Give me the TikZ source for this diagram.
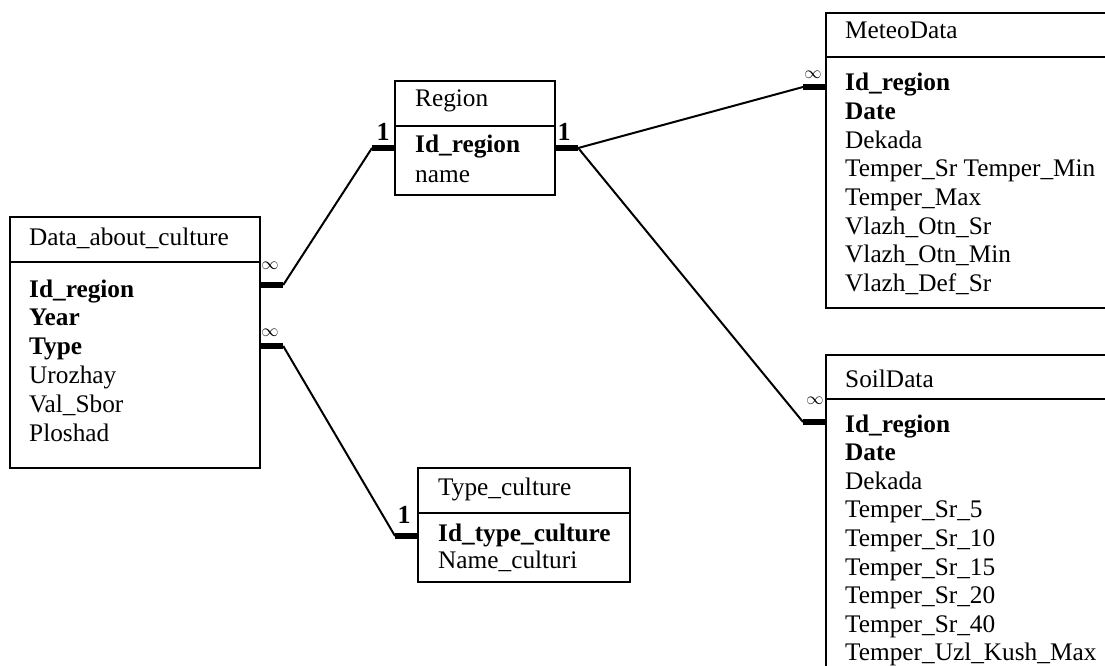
\documentclass[tikz,border=0pt]{standalone}
\usepackage{fontspec}
\setmainfont{Liberation Serif}
\usetikzlibrary{calc}
\begin{document}
\begin{tikzpicture}[x=1pt,y=-1pt,
  tbl/.style={draw, line width=2.2pt, rectangle, anchor=north west, inner sep=0pt},
  divline/.style={line width=2.2pt},
  stub/.style={line width=5.5pt},
  rel/.style={line width=2pt},
  fld/.style={anchor=base west, inner sep=0pt, font=\fontsize{25.3}{28.7}\selectfont},
  card/.style={anchor=base, inner sep=0pt, font=\fontsize{26}{26}\selectfont\bfseries},
  many/.style={inner sep=0pt, font=\fontsize{17}{17}\selectfont}]
\clip (0,0) rectangle (1105,666);
\fill[white] (0,0) rectangle (1105,666);

% tables
\node[tbl, minimum width=250pt, minimum height=251pt] (data) at (9,216) {};
\node[tbl, minimum width=160pt, minimum height=114pt] (region) at (394,80) {};
\node[tbl, minimum width=300pt, minimum height=295pt] (meteo) at (825,12) {};
\node[tbl, minimum width=300pt, minimum height=340pt] (soil) at (825,354) {};
\node[tbl, minimum width=212pt, minimum height=114pt] (type) at (417,467) {};

% dividers
\draw[divline] ($(data.north west)+(0,46)$) -- ($(data.north east)+(0,46)$);
\draw[divline] ($(region.north west)+(0,46)$) -- ($(region.north east)+(0,46)$);
\draw[divline] ($(meteo.north west)+(0,45)$) -- ($(meteo.north east)+(0,45)$);
\draw[divline] ($(soil.north west)+(0,45)$) -- ($(soil.north east)+(0,45)$);
\draw[divline] ($(type.north west)+(0,46)$) -- ($(type.north east)+(0,46)$);

% headers
\node[fld] (dataH) at (29,245) {Data\_about\_culture};
\node[fld] (regionH) at (415,107) {Region};
\node[fld] (meteoH) at (845,39) {MeteoData};
\node[fld] (soilH) at (845,387) {SoilData};
\node[fld] (typeH) at (438,495) {Type\_culture};

% fields
\foreach \t [count=\i from 0] in {\textbf{Id\_region},\textbf{Year},\textbf{Type},Urozhay,Val\_Sbor,Ploshad}
  \node[fld] (df\i) at (29,{297+28.8*\i}) {\t};
\foreach \t [count=\i from 0] in {\textbf{Id\_region},name}
  \node[fld] (rf\i) at (415,{153+29*\i}) {\t};
\foreach \t [count=\i from 0] in {\textbf{Id\_region},\textbf{Date},Dekada,Temper\_Sr Temper\_Min,Temper\_Max,Vlazh\_Otn\_Sr,Vlazh\_Otn\_Min,Vlazh\_Def\_Sr}
  \node[fld] (mf\i) at (845,{91+28.6*\i}) {\t};
\foreach \t [count=\i from 0] in {\textbf{Id\_region},\textbf{Date},Dekada,Temper\_Sr\_5,Temper\_Sr\_10,Temper\_Sr\_15,Temper\_Sr\_20,Temper\_Sr\_40,Temper\_Uzl\_Kush\_Max}
  \node[fld] (sf\i) at (845,{432+28.6*\i}) {\t};
\foreach \t [count=\i from 0] in {\textbf{Id\_type\_culture},Name\_culturi}
  \node[fld] (tf\i) at (438,{541+27.6*\i}) {\t};

% connectors: data -> region
\draw[stub] ($(data.north east)+(0,69)$) -- ++(22,0) coordinate (a1);
\draw[stub] ($(region.north west)+(0,68)$) -- ++(-22,0) coordinate (a2);
\draw[rel] (a1) -- (a2);
% data -> type
\draw[stub] ($(data.north east)+(0,130)$) -- ++(22,0) coordinate (b1);
\draw[stub] ($(type.north west)+(0,69)$) -- ++(-22,0) coordinate (b2);
\draw[rel] (b1) -- (b2);
% region -> meteo / soil
\draw[stub] ($(region.north east)+(0,68)$) -- ++(22,0) coordinate (c1);
\draw[stub] ($(meteo.north west)+(0,75)$) -- ++(-22,0) coordinate (c2);
\draw[stub] ($(soil.north west)+(0,68)$) -- ++(-22,0) coordinate (c3);
\draw[rel] (c1) -- (c2);
\draw[rel] (c1) -- (c3);

% cardinalities
\node[card] (k1) at (383,140) {1};
\node[card] (k2) at (564,140) {1};
\node[card] (k3) at (404,523) {1};
\node[many] (m1) at (270,266) {$\infty$};
\node[many] (m2) at (270,333) {$\infty$};
\node[many] (m3) at (813,75) {$\infty$};
\node[many] (m4) at (815,401) {$\infty$};
\end{tikzpicture}
\end{document}
